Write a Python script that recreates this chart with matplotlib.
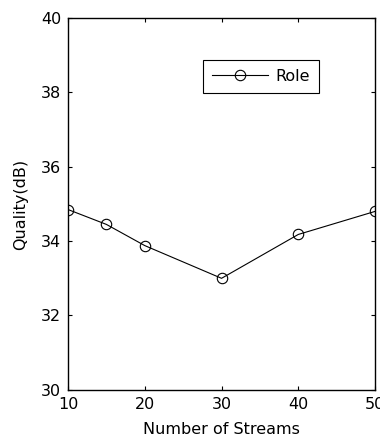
import matplotlib
matplotlib.use("Agg")
import matplotlib.pyplot as plt

streams = [10, 15, 20, 30, 40, 50]
quality = [34.85, 34.45, 33.88, 33.0, 34.18, 34.8]
x_ticks = [10, 20, 30, 40, 50]
y_ticks = [30, 32, 34, 36, 38, 40]

plt.rcParams["font.family"] = ["DejaVu Sans"]
plt.rcParams["font.size"] = 11.5

fig = plt.figure(figsize=(3.8, 4.41), dpi=100)
ax = fig.add_axes([0.179, 0.116, 0.808, 0.843])

ax.plot(streams, quality, color="black", linewidth=0.8, marker="o",
        markersize=7.5, markerfacecolor="none", markeredgecolor="black",
        markeredgewidth=0.8, label="Role")

ax.set_xlim(10, 50)
ax.set_ylim(30, 40)
ax.set_xticks(x_ticks)
ax.set_yticks(y_ticks)
ax.tick_params(direction="in", top=True, right=True, length=3, width=0.8,
               labelsize=11.5)
ax.tick_params(axis="x", pad=5)
ax.tick_params(axis="y", pad=5)
for s in ax.spines.values():
    s.set_linewidth(1.0)

ax.set_xlabel("Number of Streams", fontsize=11.5, labelpad=7)
ax.set_ylabel("Quality(dB)", fontsize=11.5, labelpad=9)

leg = ax.legend(loc="upper left", bbox_to_anchor=(0.44, 0.887),
                borderaxespad=0, fancybox=False, framealpha=1,
                edgecolor="black", handlelength=3.5, fontsize=11.5,
                borderpad=0.55, handletextpad=0.5)
leg.get_frame().set_linewidth(0.8)

fig.savefig("out.png", dpi=100)
